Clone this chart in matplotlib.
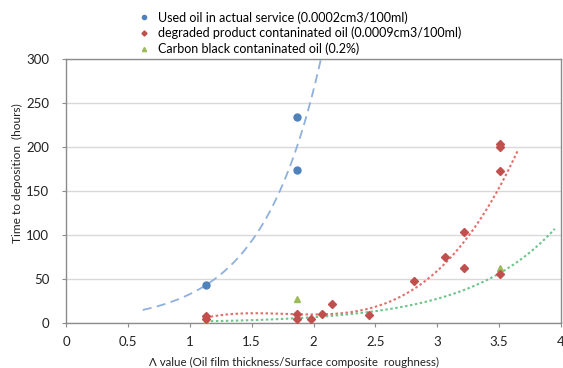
import numpy as np
import matplotlib
matplotlib.use('Agg')
import matplotlib.pyplot as plt

plt.rcParams['font.family'] = ['Lato', 'DejaVu Sans']

# used oil in actual service
blue_x = [1.13, 1.87, 1.87]
blue_y = [43, 234, 174]

# degraded product contaminated oil
red_x = [1.13, 1.13, 1.87, 1.87, 1.98, 2.07, 2.15, 2.45, 2.81, 3.06, 3.22, 3.22, 3.51, 3.51, 3.51, 3.51]
red_y = [8, 5, 10, 5, 5, 10, 22, 9, 48, 75, 103, 63, 203, 200, 173, 56]

# carbon black contaminated oil
green_x = [1.13, 1.87, 3.51]
green_y = [1, 27, 62]
# exponential trendline of the green series (y = a*exp(b*x))
green_trend_a = 0.377
green_trend_b = 1.43

x_ticks = [0, 0.5, 1, 1.5, 2, 2.5, 3, 3.5, 4]
x_tick_labels = ['0', '0.5', '1', '1.5', '2', '2.5', '3', '3.5', '4']
y_ticks = [0, 50, 100, 150, 200, 250, 300]

fig = plt.figure(figsize=(5.63, 3.68), dpi=100)
ax = fig.add_axes([66/563, 1 - 323/368, 495/563, 264/368])

# trendlines
bx = np.linspace(0.62, 2.2, 200)
bb, ba = np.polyfit(blue_x, np.log(blue_y), 1)
ax.plot(bx, np.exp(ba) * np.exp(bb * bx), color='#8fb0dd', lw=1.3, ls=(0, (5, 3)))

rx = np.linspace(1.13, 3.65, 200)
rc = np.polyfit(red_x, red_y, 3)
ax.plot(rx, np.polyval(rc, rx), color='#e0706c', lw=1.5, ls=(0, (1.2, 1.2)))

gx = np.linspace(1.13, 3.95, 200)
ax.plot(gx, green_trend_a * np.exp(green_trend_b * gx), color='#70c48c', lw=1.5, ls=(0, (1.2, 1.2)))

ax.plot(green_x, green_y, '^', color='#9bbb59', ms=5, label='Carbon black contaninated oil (0.2%)', zorder=3)
ax.plot(red_x, red_y, 'D', color='#c0504d', ms=4.3, label='degraded product contaninated oil (0.0009cm3/100ml)', zorder=4)
ax.plot(blue_x, blue_y, 'o', color='#4f81bd', ms=5, label='Used oil in actual service (0.0002cm3/100ml)', zorder=5)

ax.set_xlim(0, 4)
ax.set_ylim(0, 300)
ax.set_xticks(x_ticks)
ax.set_xticklabels(x_tick_labels)
ax.set_yticks(y_ticks)
ax.yaxis.grid(True, color='#d9d9d9', lw=1)
ax.set_axisbelow(True)
for s in ax.spines.values():
    s.set_color('#8c8c8c')
    s.set_linewidth(1)
ax.tick_params(axis='both', colors='#8c8c8c', labelcolor='#222222', labelsize=9.5, length=3, width=0.8)
ax.tick_params(axis='x', pad=6)
ax.tick_params(axis='y', pad=9)

fig.text(294/563, 1 - 362/368, 'Λ value (Oil film thickness/Surface composite  roughness)',
         fontsize=8.3, color='#222222', ha='center', va='center')
fig.text(17/563, 1 - 173/368, 'Time to deposition  (hours)', fontsize=8.6, color='#222222',
         ha='center', va='center', rotation=90)

h, l = ax.get_legend_handles_labels()
fig.legend(h[::-1], l[::-1], loc='upper left', bbox_to_anchor=(141/563, 1 - 11/368), frameon=False,
           fontsize=9, handlelength=0.5, handletextpad=0.9, labelspacing=0.25, markerscale=0.6,
           borderaxespad=0, borderpad=0)

fig.savefig('out.png', dpi=100)
